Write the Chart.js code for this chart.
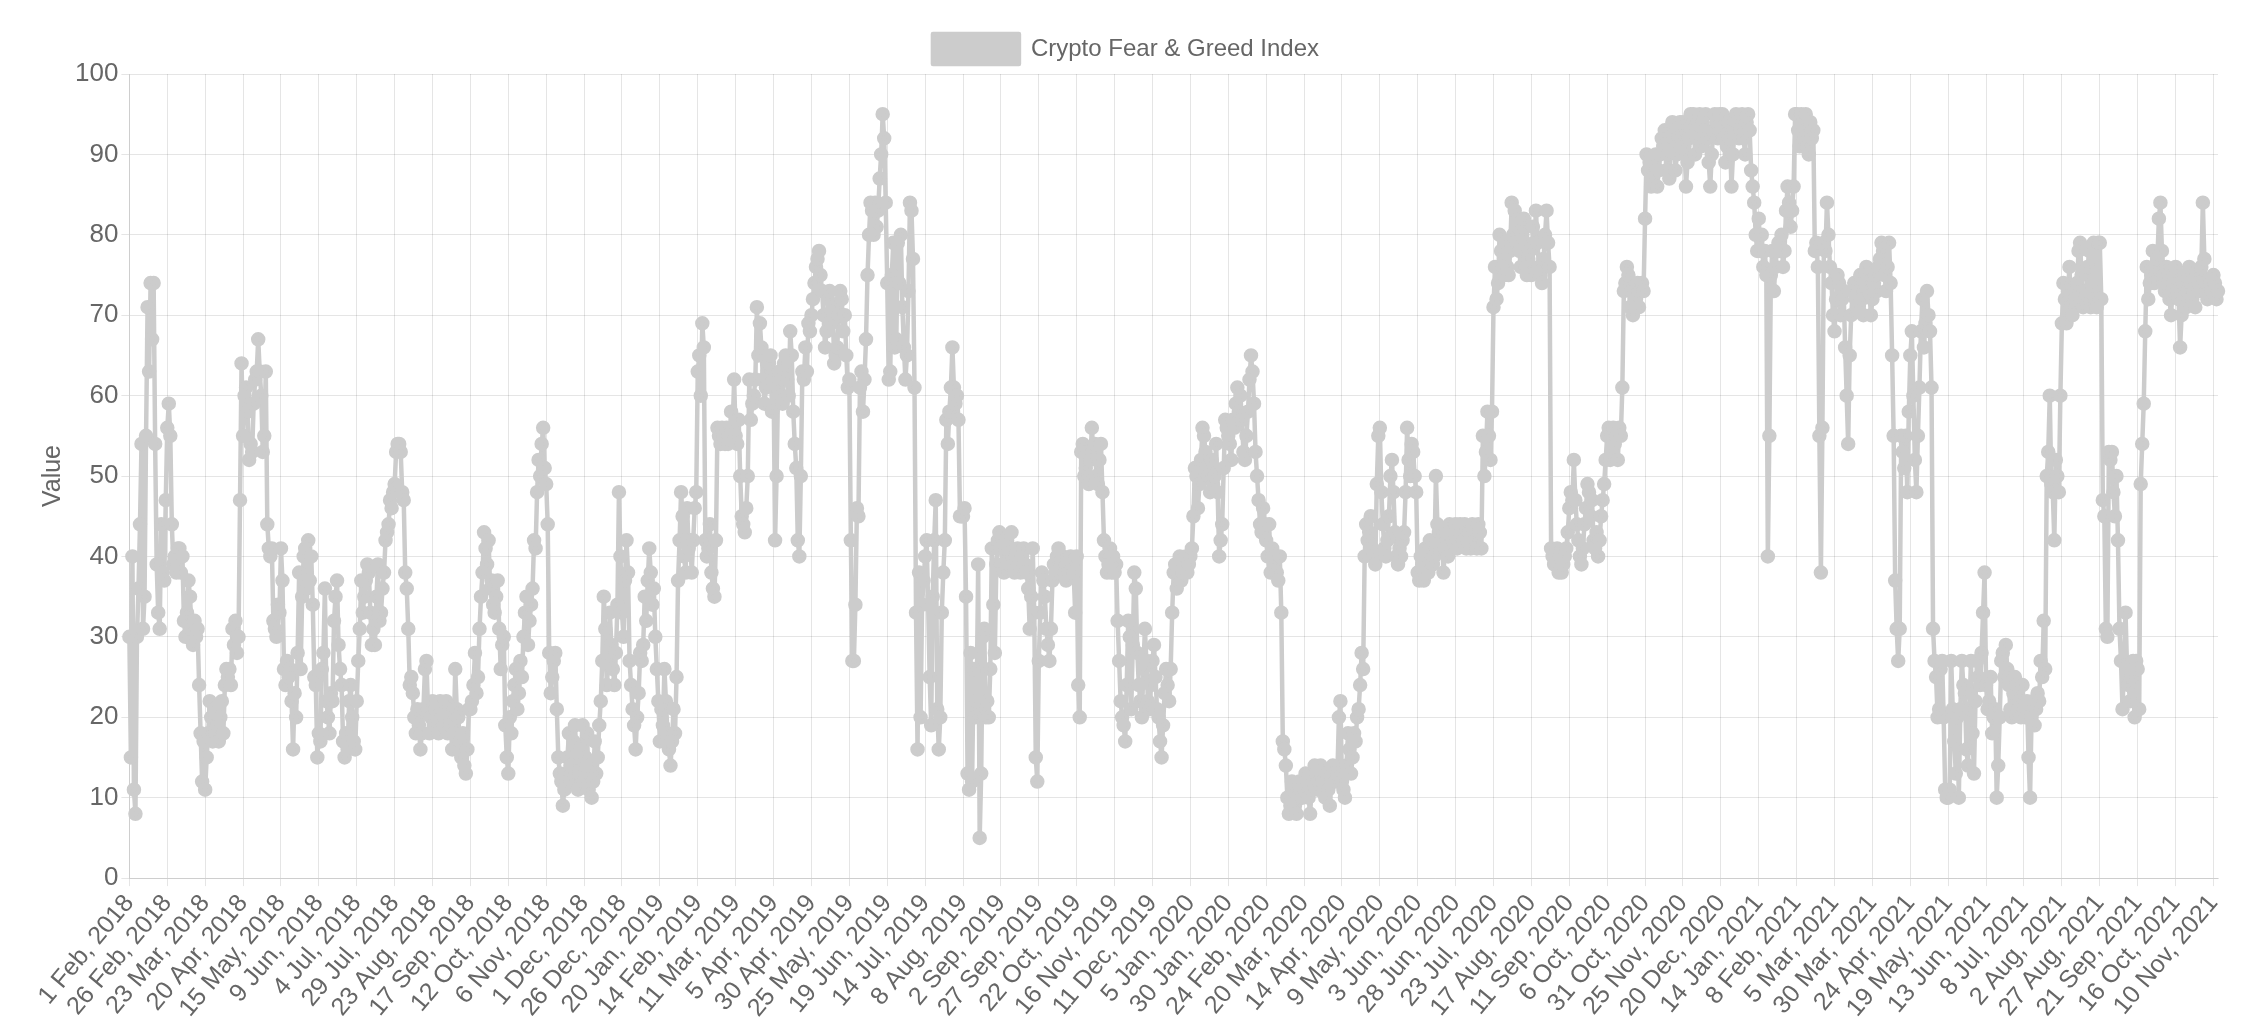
<!DOCTYPE html>
<html><head><meta charset="utf-8">
<script src="https://cdn.jsdelivr.net/npm/chart.js@4"></script>
<style>html,body{margin:0;padding:0;background:#fff}#wrap{width:2258px;height:1034px}</style>
</head><body><div id="wrap"><canvas id="c"></canvas></div>
<script>
const seriesName = "Crypto Fear & Greed Index";
const startDate = "2018-02-01";
const missingDates = ["2018-04-14","2018-04-15","2018-04-16"];
const v2018a = [30,15,40,11,8,30,36,44,54,31,35,55,71,63,74,67,74,54,39,33,31,44,38,37,47,
56,59,55,44,39,40,38,41,41,38,40,32,30,33,37,35,31,29,32,30,31,24,18,12,17,
11,15,18,22,20,17,21,18,19,17,20,22,18,24,26,25,26,24,31,29,32,28,30,47,64,
55,60,61,58,52,54,53,59,62,63,67,63,60,53,55,63,44,41,40,41,32,31,30,34,33,
41,37,26,24,27,25,26,22,16,23,20,28,38,26,35,40,41,36,42,37,40,34,25,24,15,
18,17,26,28,36,22,20,18,23,22,32,35,37,29,26,24,17,15,18,16,22,24,20,17,16,
22,27,31,37,33,35,37,39,38,33,29,31,29,35,39,32,33,36,38,42,43,44,47,46,48];
const v2018b = [49,53,54,54,53,48,47,38,36,31,24,25,23,20,18,21,19,16,18,21,26,27,21,18,20,
22,19,21,20,18,22,21,19,20,22,18,21,19,16,18,26,21,20,17,15,18,14,13,16,21,
21,22,24,28,23,25,31,35,38,43,41,39,42,36,37,34,33,35,37,31,26,29,30,19,15,
13,20,18,22,24,26,21,23,27,25,30,33,35,29,32,34,36,42,41,48,52,50,54,56,51,
49,44,28,23,25,27,28,21,15,13,12,9,11,13,15,18,14,12,17,19,15,11,13,16,19,
12,15,18,11,14,10,12,17,13,15,19,22,27,35,31,24,27,33,29,26,24,28,34,48,40];
const v2019a = [33,30,37,42,38,27,24,21,19,16,20,23,28,27,29,35,32,37,41,38,34,36,30,26,22,
17,21,19,26,22,18,16,14,17,21,18,25,37,42,48,45,40,38,46,41,42,38,42,46,48,
63,65,60,69,66,42,40,41,44,38,36,35,42,56,55,54,56,55,54,56,54,55,58,56,62,
55,54,57,50,45,44,43,46,50,62,57,59,60,62,71,65,69,66,62,59,61,63,64,65,58,
62,42,50,61,63,60,59,64,65,62,60,68,65,58,54,51,42,40,50,63,62,66,63,69,68,
70,72,74,76,77,78,75,73,70,66,68,72,73,69,71,64,65,66,70,73,72,68,70,65,61,
62,42,27,27,34,46,45,61,63,58,62,67,75,80,84,83,80,84,81,83,87,90,95,92,84,
74,62,63,75,79,66,67,79,74,80,71,66,62,65,73,84,83,77,61,33,16,38,20,34,37];
const v2019b = [40,42,34,25,19,35,42,47,21,16,20,33,38,42,57,54,58,61,66,61,59,60,57,45,45,
45,46,35,13,11,28,12,26,20,22,39,5,13,30,31,20,22,20,26,41,34,28,39,42,43,
41,39,38,41,42,41,39,43,39,38,40,41,39,38,40,41,39,38,36,31,35,41,33,15,12,
27,33,38,37,35,31,29,27,31,37,39,38,40,41,38,39,40,38,37,39,38,40,39,38,33,
40,24,20,53,54,50,51,53,49,52,56,53,54,50,49,52,54,48,42,40,38,39,41,38,40,
38,39,32,27,22,20,19,17,24,32,30,21,29,38,36,28,24,22,20,26,31,27,22,21,24,
27,29,25,21,20,17,15,19,23,26,24,22,26,33,38,39,36,38,40,37,38,39,40,38,39];
const v2020a = [40,41,45,51,50,46,49,52,56,55,53,51,50,48,52,49,50,54,48,40,42,44,51,57,56,
55,54,52,57,56,59,61,58,60,57,53,52,55,58,62,65,63,59,53,50,47,44,43,46,44,
42,40,44,38,41,39,40,38,37,40,33,17,16,14,10,8,9,12,11,9,8,10,12,11,10,
11,13,12,10,8,11,12,14,13,11,12,14,12,11,10,13,11,9,12,14,13,12,13,20,22,
12,11,10,14,18,16,13,15,18,17,20,21,24,28,26,40,44,42,43,45,41,40,39,49,55,
56,48,44,41,40,42,45,50,52,48,43,40,39,41,40,42,43,48,56,52,50,54,53,50,48,
38,37,40,39,37,41,40,38,42,41,39,40,50,44,43,41,42,38,41,43,40,44,41,42,43];
const v2020b = [44,41,42,44,43,42,44,41,42,43,41,44,43,42,41,44,43,41,55,50,53,58,55,52,58,
71,76,72,74,80,78,76,75,79,76,75,78,84,80,83,79,81,78,76,80,82,79,75,77,78,
75,81,79,83,79,76,75,74,77,80,83,79,76,41,40,39,40,41,38,40,38,39,40,41,43,
46,48,47,52,47,44,42,40,39,41,44,46,49,48,45,47,42,41,43,40,42,45,47,49,52,
55,56,52,53,56,54,55,52,56,55,61,73,74,76,75,71,73,70,73,72,74,71,73,74,73,
82,90,88,89,86,87,89,90,86,88,90,92,91,93,88,90,87,91,94,92,88,90,93,94,92,
94,91,86,89,92,95,93,95,90,92,94,95,91,94,93,95,92,89,86,90,93,95,94,92,95];
const v2021a = [93,95,92,89,91,94,92,86,90,93,95,94,92,93,95,92,90,94,95,93,88,86,84,80,78,
82,78,80,76,78,75,40,55,75,78,73,76,78,79,78,80,76,78,83,86,84,81,83,86,95,
95,93,91,95,94,92,95,91,90,94,92,93,78,79,76,55,38,56,79,78,84,80,76,74,70,
68,72,75,74,70,72,73,66,60,54,65,70,73,74,72,71,73,75,72,70,74,76,74,73,70,
72,74,75,73,76,77,79,78,75,73,76,79,74,65,55,37,31,27,31,55,53,51,55,48,58,
65,68,60,52,48,55,61,68,72,66,69,73,70,68,61,31,27,25,20,21,26,27,20,11,10,
10,11,27,21,17,13,20,10,21,27,24,23,16,14,21,27,18,13,22,27,25,24,28,33,38];
const v2021b = [24,21,22,25,18,20,21,10,14,20,27,28,25,29,26,24,21,20,23,25,24,21,22,20,24,
21,20,22,15,10,20,22,19,21,23,22,27,25,32,26,50,53,60,49,48,42,52,50,48,60,
69,74,72,69,73,76,71,70,73,72,74,78,79,75,71,72,73,76,78,71,73,79,72,71,79,
79,72,47,45,31,30,53,52,53,48,45,50,42,31,27,21,27,33,26,24,22,25,27,20,27,
26,21,49,54,59,68,76,72,74,75,78,74,76,77,82,84,78,75,73,76,74,72,70,73,75,
76,73,72,66,70,74,75,71,73,76,74,72,73,71,75,74,73,76,84,77,74,72,73,74,73,
75,74,72,73];
const values = [].concat(v2018a,v2018b,v2019a,v2019b,v2020a,v2020b,v2021a,v2021b);
const months = ["Jan","Feb","Mar","Apr","May","Jun","Jul","Aug","Sep","Oct","Nov","Dec"];
const labels = [];
{
  let d = new Date(startDate+"T00:00:00Z");
  while (labels.length < values.length) {
    const iso = d.toISOString().slice(0,10);
    if (!missingDates.includes(iso)) labels.push(d.getUTCDate()+" "+months[d.getUTCMonth()]+", "+d.getUTCFullYear());
    d = new Date(d.getTime()+86400000);
  }
}
Chart.defaults.font.family = "Helvetica, Arial, 'Liberation Sans', sans-serif";
Chart.defaults.font.size = 24;
Chart.defaults.color = "#666";
new Chart(document.getElementById('c'), {
  type:'line',
  data:{labels, datasets:[{label:seriesName, data:values, borderColor:'#cccccc', backgroundColor:'#cccccc',
    borderWidth:4.5, borderJoinStyle:'round', pointRadius:5, pointHoverRadius:5, fill:false, tension:0}]},
  options:{responsive:true, maintainAspectRatio:false, animation:false,
    layout:{padding:{left:34,right:40,top:24,bottom:8}},
    plugins:{legend:{labels:{boxWidth:86,boxHeight:30,font:{size:24}}}},
    scales:{
      x:{ticks:{maxRotation:50,minRotation:50,autoSkip:false,font:{size:25},
           callback:function(v,i){return i%25===0?this.getLabelForValue(v):null;}},
         grid:{color:'rgba(0,0,0,0.1)'}},
      y:{min:0,max:100,ticks:{stepSize:10,font:{size:26}},title:{display:true,text:'Value',font:{size:25}},
         grid:{color:'rgba(0,0,0,0.1)'}}
    }}
});
</script></body></html>
